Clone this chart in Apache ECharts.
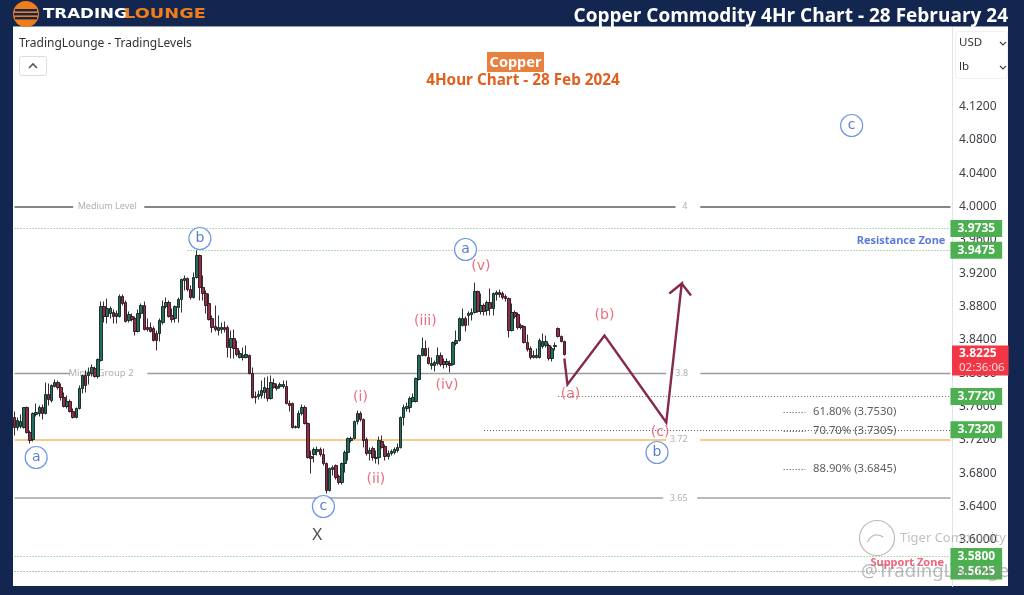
<!DOCTYPE html>
<html><head><meta charset="utf-8">
<style>html,body{margin:0;padding:0;background:#12264f}#c{width:1024px;height:595px}</style>
<script src="https://cdn.jsdelivr.net/npm/echarts@6/dist/echarts.min.js"></script>
</head><body><div id="c"></div><script>
// [open, close, low, high]
const candles = [
[3.7468,3.7348,3.7252,3.7540],[3.7348,3.7432,3.7312,3.7468],[3.7360,3.7420,3.7336,3.7504],[3.7348,3.7588,3.7336,3.7588],[3.7588,3.7288,3.7276,3.7600],
[3.7288,3.7192,3.7156,3.7312],[3.7204,3.7516,3.7180,3.7528],[3.7504,3.7528,3.7480,3.7636],[3.7516,3.7588,3.7480,3.7612],[3.7588,3.7516,3.7444,3.7624],
[3.7516,3.7744,3.7504,3.7888],[3.7744,3.7684,3.7612,3.7876],[3.7672,3.7852,3.7648,3.7864],[3.7840,3.7888,3.7828,3.7924],[3.7888,3.7828,3.7804,3.7912],
[3.7828,3.7708,3.7672,3.7876],[3.7708,3.7600,3.7588,3.7768],[3.7600,3.7660,3.7576,3.7732],[3.7660,3.7540,3.7528,3.7684],[3.7540,3.7468,3.7456,3.7576],
[3.7468,3.7576,3.7456,3.7588],[3.7576,3.7816,3.7564,3.7852],[3.7816,3.7972,3.7756,3.7984],[3.7972,3.7852,3.7768,3.8032],[3.7972,3.8008,3.7864,3.8068],
[3.7996,3.8068,3.7960,3.8104],[3.8056,3.7960,3.7948,3.8080],[3.7960,3.8164,3.7936,3.8176],[3.8152,3.8800,3.8140,3.8860],[3.8800,3.8680,3.8608,3.8860],
[3.8680,3.8776,3.8596,3.8896],[3.8716,3.8776,3.8656,3.8800],[3.8728,3.8680,3.8596,3.8764],[3.8680,3.8716,3.8596,3.8752],[3.8680,3.8920,3.8668,3.8944],
[3.8920,3.8836,3.8812,3.8944],[3.8848,3.8620,3.8608,3.8872],[3.8632,3.8704,3.8608,3.8740],[3.8680,3.8644,3.8620,3.8716],[3.8656,3.8500,3.8452,3.8680],
[3.8500,3.8716,3.8488,3.8764],[3.8716,3.8812,3.8656,3.8836],[3.8812,3.8524,3.8512,3.8860],[3.8548,3.8524,3.8500,3.8656],[3.8548,3.8500,3.8488,3.8608],
[3.8536,3.8392,3.8380,3.8560],[3.8476,3.8392,3.8272,3.8512],[3.8476,3.8632,3.8380,3.8656],[3.8608,3.8800,3.8584,3.8872],[3.8800,3.8848,3.8776,3.8908],
[3.8848,3.8680,3.8668,3.8872],[3.8692,3.8644,3.8608,3.8776],[3.8656,3.8800,3.8608,3.8812],[3.8788,3.8884,3.8608,3.8908],[3.8884,3.9124,3.8728,3.9136],
[3.9112,3.9136,3.8992,3.9172],[3.9136,3.9004,3.8980,3.9148],[3.9004,3.8908,3.8884,3.9052],[3.8908,3.9148,3.8896,3.9208],[3.9148,3.9412,3.9136,3.9472],
[3.9412,3.9028,3.8872,3.9424],[3.9028,3.8956,3.8872,3.9172],[3.8956,3.8812,3.8716,3.8992],[3.8836,3.8644,3.8632,3.8956],[3.8656,3.8548,3.8488,3.8692],
[3.8560,3.8524,3.8500,3.8812],[3.8512,3.8548,3.8452,3.8692],[3.8524,3.8548,3.8476,3.8608],[3.8548,3.8524,3.8488,3.8620],[3.8548,3.8308,3.8188,3.8572],
[3.8308,3.8416,3.8176,3.8512],[3.8416,3.8296,3.8176,3.8524],[3.8296,3.8224,3.8200,3.8392],[3.8188,3.8236,3.8176,3.8272],[3.8188,3.8212,3.8152,3.8308],
[3.8188,3.8224,3.8176,3.8332],[3.8212,3.7996,3.7984,3.8224],[3.7996,3.7708,3.7696,3.8068],[3.7720,3.7708,3.7636,3.7780],[3.7720,3.7744,3.7684,3.7792],
[3.7732,3.7792,3.7696,3.7912],[3.7768,3.7828,3.7696,3.7948],[3.7816,3.7696,3.7660,3.7960],[3.7696,3.7888,3.7684,3.7972],[3.7876,3.7828,3.7816,3.7936],
[3.7816,3.7840,3.7792,3.7876],[3.7840,3.7864,3.7816,3.7888],[3.7840,3.7864,3.7816,3.7912],[3.7840,3.7636,3.7624,3.7912],[3.7636,3.7612,3.7540,3.7672],
[3.7636,3.7348,3.7336,3.7648],[3.7348,3.7360,3.7336,3.7372],[3.7348,3.7516,3.7336,3.7552],[3.7516,3.7588,3.7492,3.7624],[3.7588,3.7396,3.7384,3.7612],
[3.7396,3.6988,3.6976,3.7408],[3.7000,3.6976,3.6796,3.7072],[3.7024,3.7084,3.6928,3.7108],[3.7060,3.7084,3.7012,3.7120],[3.7084,3.7024,3.7000,3.7108],
[3.7024,3.6916,3.6892,3.7096],[3.6916,3.6592,3.6556,3.6928],[3.6592,3.6856,3.6580,3.6868],[3.6844,3.6868,3.6772,3.6892],[3.6892,3.6748,3.6724,3.6904],
[3.6760,3.6688,3.6664,3.6784],[3.6688,3.6916,3.6664,3.6928],[3.6916,3.7048,3.6808,3.7072],[3.7048,3.7216,3.6952,3.7228],[3.7192,3.7216,3.7168,3.7240],
[3.7216,3.7420,3.7204,3.7432],[3.7420,3.7516,3.7384,3.7552],[3.7516,3.7444,3.7420,3.7540],[3.7444,3.7192,3.7108,3.7456],[3.7204,3.7036,3.7012,3.7228],
[3.7036,3.7072,3.6952,3.7108],[3.7096,3.6988,3.6952,3.7120],[3.6976,3.6988,3.6916,3.7072],[3.6988,3.7192,3.6904,3.7240],[3.7180,3.7108,3.7096,3.7252],
[3.7120,3.7000,3.6952,3.7144],[3.7000,3.7036,3.6964,3.7072],[3.7036,3.7060,3.7012,3.7084],[3.7048,3.7084,3.7024,3.7108],[3.7072,3.7108,3.7048,3.7156],
[3.7108,3.7468,3.7096,3.7480],[3.7468,3.7588,3.7372,3.7624],[3.7576,3.7600,3.7540,3.7648],[3.7588,3.7696,3.7528,3.7720],[3.7660,3.7708,3.7648,3.7756],
[3.7660,3.7936,3.7648,3.7948],[3.7924,3.8212,3.7912,3.8224],[3.8212,3.8296,3.8200,3.8428],[3.8296,3.8212,3.8200,3.8392],[3.8188,3.8116,3.8104,3.8308],
[3.8092,3.8116,3.8044,3.8188],[3.8092,3.8128,3.8020,3.8152],[3.8116,3.8212,3.8092,3.8308],[3.8212,3.8104,3.8080,3.8248],[3.8140,3.8104,3.8056,3.8176],
[3.8104,3.8140,3.8068,3.8176],[3.8116,3.8092,3.8008,3.8152],[3.8104,3.8368,3.8092,3.8380],[3.8356,3.8392,3.8332,3.8512],[3.8392,3.8656,3.8380,3.8668],
[3.8572,3.8656,3.8560,3.8776],[3.8656,3.8572,3.8500,3.8680],[3.8692,3.8716,3.8572,3.8740],[3.8704,3.8728,3.8632,3.8776],[3.8728,3.8980,3.8716,3.9088],
[3.8980,3.8740,3.8728,3.8992],[3.8740,3.8812,3.8704,3.8956],[3.8812,3.8740,3.8692,3.8836],[3.8752,3.8848,3.8692,3.8872],[3.8848,3.8776,3.8692,3.9016],
[3.8776,3.8956,3.8692,3.8968],[3.8944,3.8968,3.8872,3.8992],[3.8968,3.8944,3.8908,3.9004],[3.8956,3.8908,3.8884,3.8980],[3.8920,3.8896,3.8860,3.8944],
[3.8896,3.8512,3.8428,3.8908],[3.8512,3.8728,3.8500,3.8836],[3.8728,3.8680,3.8656,3.8752],[3.8704,3.8548,3.8524,3.8728],[3.8572,3.8548,3.8524,3.8596],
[3.8560,3.8368,3.8356,3.8572],[3.8368,3.8284,3.8260,3.8464],[3.8296,3.8188,3.8164,3.8320],[3.8188,3.8212,3.8176,3.8272],[3.8188,3.8212,3.8176,3.8296],
[3.8188,3.8392,3.8176,3.8416],[3.8320,3.8380,3.8296,3.8476],[3.8332,3.8380,3.8308,3.8452],[3.8332,3.8176,3.8152,3.8356],[3.8176,3.8296,3.8140,3.8320],
[3.8320,3.8332,3.8272,3.8368],[3.8536,3.8440,3.8428,3.8548],[3.8440,3.8380,3.8368,3.8452],[3.8380,3.8224,3.8212,3.8392]
];
const slotCount = 304;
const categories = Array.from({length: slotCount}, (_, i) => String(i));
const priceTicks = [4.12,4.08,4.04,4.00,3.96,3.92,3.88,3.84,3.80,3.76,3.72,3.68,3.64,3.60,3.56];
const projection = [[178,3.8176],[179,3.7864],[191,3.8452],[211,3.7408],[216,3.9076],[212,3.8956],[216,3.9076],[219,3.8932]];
const resistanceLevels = [3.9735,3.9475];
const supportLevels = [3.58,3.5625];
const retraceLevels = [3.772,3.732];
const fibValues = [3.753,3.7305,3.6845];
const fibLabels = ['61.80% (3.7530)','70.70% (3.7305)','88.90% (3.6845)'];
const lastPrice = 3.8225;
const countdown = '02:36:06';
const circleLabels = [['a',7,3.6988],['b',60,3.9616],['c',100,3.64],['a',146,3.9484],['b',208,3.7048],['c',271,4.0972]];
const waveLabels = [['(i)',112,3.7708],['(ii)',117,3.6724],['(iii)',133,3.862],['(iv)',140,3.7852],['(v)',151,3.928],['(a)',180,3.7744],['(b)',191,3.8692],['(c)',209,3.7288]];
const levelLabels = [['Medium Level',30,4.0],['4',217,4.0],['3.8',216,3.8],['3.72',215,3.72],['3.65',215,3.65]];
const groupLabel = [['Minor Group 2',28,3.8]];

const F = '"Noto Sans", sans-serif';
const GREEN = '#4caf50';
const seg = (a, b, v) => [{coord:[String(a), v]}, {coord:[String(b), v]}];
const textSeries = (name, data, label, z) => ({
  name, type:'scatter', symbolSize:1, itemStyle:{color:'rgba(0,0,0,0)'}, z, silent:true,
  data: data.map(d => ({value:[String(d[1]), d[2]], name:d[0]})),
  label:{show:true, position:'inside', formatter:p=>p.name, ...label}
});
const badgeLabel = v => ({show:true, position:'end', distance:0, formatter:v.toFixed(4), backgroundColor:GREEN, color:'#fff',
  fontFamily:F, fontSize:12, fontWeight:'bold', padding:[2,7,2,7], lineHeight:13, align:'left'});
const dotted = c => ({type:[1,2], width:1, color:c, opacity:1});
const partBadge = (a, v, c) => [{coord:[String(a), v], lineStyle:dotted(c)}, {coord:['303', v], label:badgeLabel(v)}];
const greyLine = (w, c) => ({width:w, color:c, type:'solid'});
const rect = (x,y,w,h,fill,z) => ({type:'rect', shape:{x,y,width:w,height:h}, style:{fill}, z, silent:true});
const txt = (x,y,text,o,z,extra) => ({type:'text', x, y, z:z||5, silent:true, ...(extra||{}), style:{text, fontFamily:F, verticalAlign:'middle', ...o}});
const chev = (pts,stroke,lw) => ({type:'polyline', shape:{points:pts}, style:{stroke,lineWidth:lw,fill:'none'}, z:6, silent:true});

const chart = echarts.init(document.getElementById('c'), null, {renderer:'canvas'});
chart.setOption({
  animation:false,
  backgroundColor:'#12264f',
  grid:{left:13, right:72, top:27.5, bottom:8.5, containLabel:false},
  xAxis:{type:'category', data:categories, show:false, boundaryGap:true},
  yAxis:{type:'value', position:'right', min:3.544, max:4.2148, splitLine:{show:false},
    axisLine:{show:true, lineStyle:{color:'#e0e3eb'}}, axisTick:{show:false},
    axisLabel:{customValues:priceTicks, formatter:v=>v.toFixed(4), color:'#3f3f46', fontFamily:F, fontSize:12, margin:7}},
  graphic:[
    rect(13,27,995,559,'#ffffff',-10),
    rect(13,26,995,1,'#8f99ad',-9),
    {type:'circle', shape:{cx:26,cy:14,r:13}, style:{fill:'#ef7d1a'}, z:5, silent:true},
    rect(15,9,22,2.4,'#12264f',6), rect(14,13,24,2.4,'#12264f',6), rect(15,17,22,2.4,'#12264f',6),
    txt(43,14.5,'TRADING',{fill:'#ffffff',fontSize:14,fontWeight:'bold',fontFamily:'"DejaVu Sans"'},5,{scaleX:1.19}),
    txt(124,14.5,'LOUNGE',{fill:'#ef7d1a',fontSize:14,fontWeight:'bold',fontFamily:'"DejaVu Sans"'},5,{scaleX:1.27}),
    txt(1008,16.5,'Copper Commodity 4Hr Chart - 28 February 24',{fill:'#ffffff',fontSize:19,fontWeight:'bold',align:'right',fontFamily:'"Open Sans"'}),
    txt(19,44,'TradingLounge - TradingLevels',{fill:'#333',fontSize:12}),
    {type:'rect', shape:{x:19.5,y:56.5,width:27,height:19,r:2}, style:{fill:'#fff',stroke:'#ddd'}, z:5, silent:true},
    chev([[29,68],[33,64],[37,68]],'#555',1.6),
    rect(487,52,57,20,'#e8813f',5),
    txt(515.5,63,'Copper',{fill:'#fff',fontSize:14.5,fontWeight:'bold',align:'center'}),
    txt(523,81,'4Hour Chart - 28 Feb 2024',{fill:'#e0601f',fontSize:15.3,fontWeight:'bold',align:'center'}),
    {type:'rect', shape:{x:955.5,y:31.5,width:52,height:47,r:3}, style:{fill:'#fff',stroke:'#eef0f3'}, z:5, silent:true},
    txt(959,43,'USD',{fill:'#333',fontSize:11.5}),
    txt(959,67,'lb',{fill:'#333',fontSize:11.5}),
    chev([[1000,42],[1003,45],[1006,42]],'#444',1.2),
    chev([[1000,66],[1003,69],[1006,66]],'#444',1.2),
    {type:'circle', shape:{cx:877,cy:538,r:17.5}, style:{fill:'none',stroke:'rgba(150,150,150,0.65)',lineWidth:1.2}, z:50, silent:true},
    {type:'arc', shape:{cx:877,cy:545,r:10,startAngle:3.4,endAngle:5.4}, style:{fill:'none',stroke:'rgba(150,150,150,0.6)',lineWidth:1.2}, z:50, silent:true},
    txt(900,538,'Tiger Community',{fill:'rgba(150,150,150,0.6)',fontSize:13},50),
    txt(861,572,'@TradingLounge',{fill:'rgba(140,140,140,0.6)',fontSize:18.5},50)
  ],
  series:[
    {name:'levels', type:'line', data:[], z:1, silent:true, showSymbol:false,
      markLine:{silent:true, symbol:'none', animation:false, precision:4, label:{show:false}, data:[
        ...[seg(0,19,4.0),seg(42,214,4.0),seg(222,303,4.0)].map(d=>[{...d[0],lineStyle:greyLine(2,'#85858c')},d[1]]),
        ...[seg(0,18,3.8),seg(43,211,3.8),seg(222,303,3.8)].map(d=>[{...d[0],lineStyle:greyLine(1.4,'#9a9a9f')},d[1]]),
        ...[seg(0,211,3.72),seg(222,303,3.72)].map(d=>[{...d[0],lineStyle:greyLine(2,'#f8c987')},d[1]]),
        ...[seg(0,210,3.65),seg(221,303,3.65)].map(d=>[{...d[0],lineStyle:greyLine(1.6,'#a3a3a8')},d[1]])
      ]}},
    {name:'zones', type:'line', data:[], z:3, silent:true, showSymbol:false,
      markLine:{silent:true, symbol:'none', animation:false, precision:4, label:{show:false}, data:[
          partBadge(0,resistanceLevels[0],'#6db36d'),
          partBadge(56,resistanceLevels[1],'#6db36d'),
          partBadge(0,supportLevels[0],'#6db36d'),
          partBadge(0,supportLevels[1],'#6f8f6f'),
          partBadge(176,retraceLevels[0],'#5f6f5f'),
          partBadge(152,retraceLevels[1],'#666666'),
          ...fibValues.map(v=>[{...seg(249,256,v)[0],lineStyle:dotted('#444')},seg(249,256,v)[1]]),
          {yAxis:lastPrice, lineStyle:{color:'rgba(0,0,0,0)', width:0},
            label:{show:true, position:'end', distance:0, offset:[0,6], formatter:'{a|'+lastPrice.toFixed(4)+'}\n{b|'+countdown+'}', backgroundColor:'#f23645',
              padding:[1,4,1,7], align:'left',
              rich:{a:{color:'#fff',fontFamily:F,fontSize:12,fontWeight:'bold',lineHeight:14},b:{color:'#ffd9dd',fontFamily:F,fontSize:11.5,lineHeight:14}}}}
        ]}},
    {name:'Copper', type:'candlestick', data:candles, z:5, barWidth:3, silent:true,
      itemStyle:{color:'#1f6e5e', color0:'#8e2f48', borderColor:'#13201e', borderColor0:'#2c1218', borderWidth:0.9}},
    {name:'Projection', type:'line', data:projection, z:6, silent:true, showSymbol:false, symbol:'none',
      lineStyle:{color:'#87294f', width:2.4, join:'miter'}},
    textSeries('waves', waveLabels, {color:'#e8475f', fontSize:14, fontFamily:'"DejaVu Sans"'}, 8),
    textSeries('levelText', levelLabels, {color:'#9c9ca2', fontSize:9, fontFamily:F}, 4),
    textSeries('groupText', groupLabel, {color:'#9c9ca2', fontSize:9.5, fontFamily:F}, 4),
    {name:'circles', type:'scatter', symbolSize:22, z:9, silent:true,
      itemStyle:{color:'#fff', borderColor:'#4b7de0', borderWidth:1.2},
      data:circleLabels.map(d=>({value:[String(d[1]),d[2]],name:d[0]})),
      label:{show:true, position:'inside', formatter:p=>p.name, color:'#2f5bc0', fontSize:14, fontFamily:'"DejaVu Sans"'}},
    textSeries('fib', fibValues.map((v,i)=>[fibLabels[i],258,v]), {color:'#333', fontSize:11.3, fontFamily:F, align:'left', position:[2,0], verticalAlign:'middle'}, 7),
    textSeries('resistance', [['Resistance Zone',287,3.9592]], {color:'#3357d6', fontSize:11, fontWeight:'bold', fontFamily:F}, 7),
    textSeries('support', [['Support Zone',289,3.5728]], {color:'#ef3b5a', fontSize:11, fontWeight:'bold', fontFamily:F}, 7),
    textSeries('x', [['X',98,3.6052]], {color:'#222', fontSize:17, fontFamily:F}, 7)
  ]
});
</script></body></html>
